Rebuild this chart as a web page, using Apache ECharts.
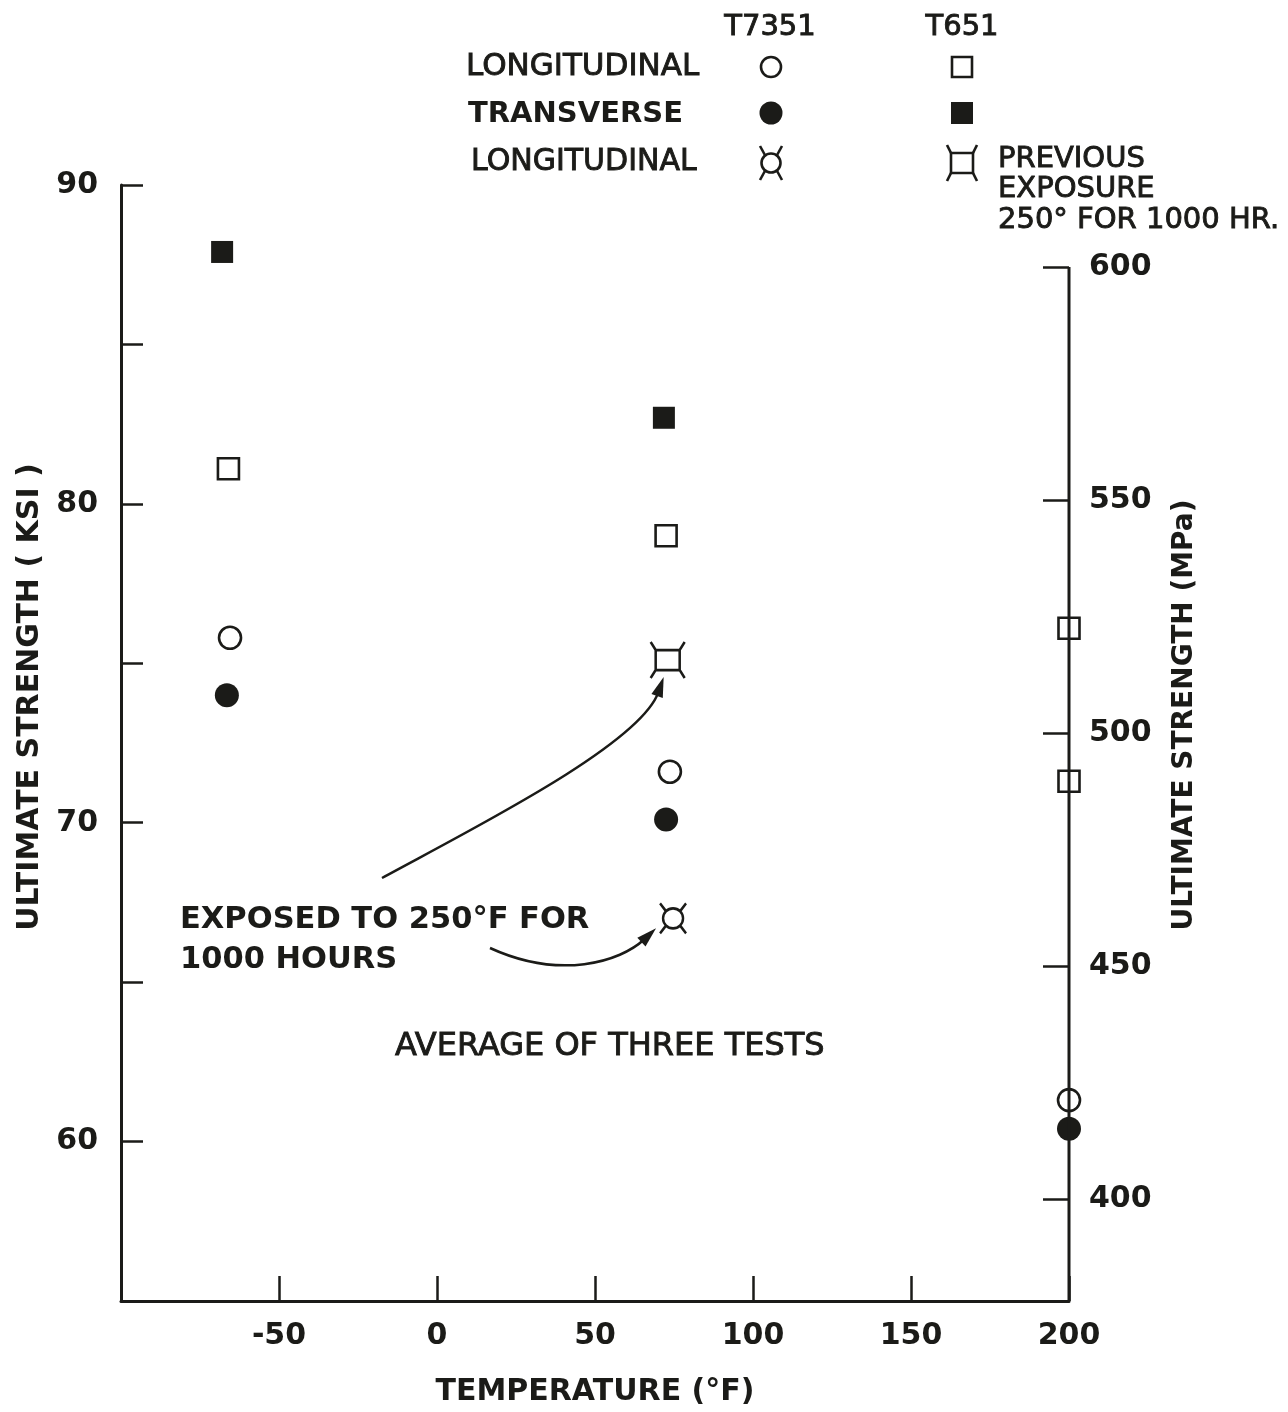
<!DOCTYPE html>
<html>
<head>
<meta charset="utf-8">
<script src="https://cdn.jsdelivr.net/npm/echarts@6/dist/echarts.min.js"></script>
<style>
  html, body { margin: 0; padding: 0; background: #fff; }
  #chart { width: 1288px; height: 1412px; }
</style>
</head>
<body>
<div id="chart"></div>
<script>
const ink = '#1b1b18';
const font = 'DejaVu Sans';

// [temperature °F, ultimate strength ksi]
const t7351Long = [[-65.5, 75.8], [73.7, 71.6], [200, 61.3]];
const t7351Trans = [[-66.5, 74.0], [72.5, 70.1], [200, 60.4]];
const t7351Exposed = [[74.7, 67.0]];
const t651Long = [[-66, 81.1], [72.5, 79.0], [200, 76.1], [200, 71.3]];
const t651Trans = [[-68, 87.9], [71.8, 82.7]];
const t651Exposed = [[73, 75.1]];

// right hand MPa scale
const mpaTicks = [400, 450, 500, 550, 600];
const mpaLine = [[200, 600], [200, 378.1]];

const crossCircle = 'path://M10 0A10 10 0 1 1 -10 0A10 10 0 1 1 10 0ZM-7 -7.1L-13 -15M7 -7.1L13 -15M-7 7.1L-13 15M7 7.1L13 15';
const crossSquare = 'path://M-12 -10L12 -10L12 10L-12 10ZM-12 -10L-17 -18M12 -10L17 -18M-12 10L-17 18M12 10L17 18';

const openStyle = { color: '#fff', borderColor: ink, borderWidth: 2.6, opacity: 1 };
const fillStyle = { color: ink, opacity: 1 };
const crossStyle = { color: 'rgba(0,0,0,0)', borderColor: ink, borderWidth: 2.6, opacity: 1 };

const chart = echarts.init(document.getElementById('chart'));

const option = {
  backgroundColor: '#fff',
  animation: false,
  grid: { left: 121, right: 219, top: 185, height: 1117 },
  xAxis: {
    type: 'value',
    min: -100,
    max: 200,
    interval: 50,
    name: 'TEMPERATURE (°F)',
    nameLocation: 'middle',
    nameGap: 76,
    nameTextStyle: { fontFamily: font, fontSize: 30, fontWeight: 'bold', color: ink },
    axisLine: { onZero: false, lineStyle: { color: ink, width: 3 } },
    axisTick: { inside: true, length: 25, lineStyle: { color: ink, width: 2.5 } },
    axisLabel: {
      margin: 20,
      fontFamily: font, fontSize: 30, fontWeight: 'bold', color: ink,
      formatter: v => (v === -100 ? '' : v)
    },
    splitLine: { show: false }
  },
  yAxis: [
    {
      type: 'value',
      position: 'left',
      min: 55,
      max: 90,
      interval: 5,
      axisLine: { show: true, onZero: false, lineStyle: { color: ink, width: 3 } },
      axisTick: { inside: true, length: 22, lineStyle: { color: ink, width: 2.5 } },
      axisLabel: {
        margin: 23,
        fontFamily: font, fontSize: 30, fontWeight: 'bold', color: ink,
        formatter: v => (v % 10 === 0 ? v : '')
      },
      splitLine: { show: false }
    },
    {
      type: 'value',
      position: 'right',
      min: 378.1,
      max: 617.6,
      axisLine: { show: false, onZero: false },
      axisTick: { show: true, inside: true, length: 26, customValues: mpaTicks, lineStyle: { color: ink, width: 2.5 } },
      axisLabel: {
        margin: 20,
        customValues: mpaTicks,
        fontFamily: font, fontSize: 30, fontWeight: 'bold', color: ink
      },
      splitLine: { show: false }
    }
  ],
  series: [
    {
      name: 'mpa axis',
      type: 'line',
      yAxisIndex: 1,
      data: mpaLine,
      symbol: 'none',
      silent: true,
      lineStyle: { color: ink, width: 3 }
    },
    { name: 'T651 transverse', type: 'scatter', data: t651Trans, symbol: 'rect', symbolSize: 22, itemStyle: fillStyle },
    { name: 'T651 longitudinal', type: 'scatter', data: t651Long, symbol: 'rect', symbolSize: 21, itemStyle: openStyle },
    { name: 'T651 exposed', type: 'scatter', data: t651Exposed, symbol: crossSquare, symbolSize: [34, 36], itemStyle: crossStyle },
    { name: 'T7351 longitudinal', type: 'scatter', data: t7351Long, symbol: 'circle', symbolSize: 22, itemStyle: openStyle },
    { name: 'T7351 transverse', type: 'scatter', data: t7351Trans, symbol: 'circle', symbolSize: 24, itemStyle: fillStyle },
    { name: 'T7351 exposed', type: 'scatter', data: t7351Exposed, symbol: crossCircle, symbolSize: [26, 30], itemStyle: crossStyle }
  ]
};

chart.setOption(option);

// annotation arrows, tips anchored to the exposed points
const pA = chart.convertToPixel({ xAxisIndex: 0, yAxisIndex: 0 }, t651Exposed[0]);
const pB = chart.convertToPixel({ xAxisIndex: 0, yAxisIndex: 0 }, t7351Exposed[0]);

function arrow(x1, y1, c1x, c1y, c2x, c2y, tx, ty) {
  const dx = tx - c2x, dy = ty - c2y;
  const len = Math.sqrt(dx * dx + dy * dy);
  const ux = dx / len, uy = dy / len;
  const hl = 20, hw = 6;
  const bx = tx - ux * hl, by = ty - uy * hl;
  return [
    {
      type: 'bezierCurve',
      shape: { x1: x1, y1: y1, cpx1: c1x, cpy1: c1y, cpx2: c2x, cpy2: c2y, x2: bx + ux * 4, y2: by + uy * 4 },
      style: { stroke: ink, lineWidth: 2.5, fill: null }
    },
    {
      type: 'polygon',
      shape: { points: [[tx, ty], [bx - uy * hw, by + ux * hw], [bx + uy * hw, by - ux * hw]] },
      style: { fill: ink }
    }
  ];
}

// 'medium' = book weight thickened a little with a stroke of the same ink
function txt(s, x, y, size, weight, align) {
  const style = {
    text: s, fill: ink, fontFamily: font, fontSize: size,
    fontWeight: weight === 'bold' ? 'bold' : 'normal',
    align: align || 'left', verticalAlign: 'middle'
  };
  if (weight === 'medium') {
    style.stroke = ink;
    style.lineWidth = 0.9;
  }
  return { type: 'text', x: x, y: y, style: style };
}

function seg(x1, y1, x2, y2) {
  return { type: 'line', shape: { x1: x1, y1: y1, x2: x2, y2: y2 }, style: { stroke: ink, lineWidth: 2.6 } };
}

// legend keys drawn the same way as the point symbols
const lineStroke = { fill: null, stroke: ink, lineWidth: 2.6 };
const legendSym = [
  { type: 'circle', shape: { cx: 771, cy: 67, r: 10 }, style: { fill: '#fff', stroke: ink, lineWidth: 2.6 } },
  { type: 'rect', shape: { x: 952, y: 57, width: 20, height: 20 }, style: { fill: '#fff', stroke: ink, lineWidth: 2.6 } },
  { type: 'circle', shape: { cx: 771, cy: 113, r: 11.5 }, style: { fill: ink } },
  { type: 'rect', shape: { x: 951, y: 102, width: 22, height: 22 }, style: { fill: ink } },
  { type: 'circle', shape: { cx: 771, cy: 163, r: 9.5 }, style: lineStroke },
  seg(765.2, 155.5, 760, 146), seg(776.8, 155.5, 782, 146), seg(765.2, 170.5, 760, 180), seg(776.8, 170.5, 782, 180),
  { type: 'rect', shape: { x: 951, y: 153, width: 22, height: 20 }, style: lineStroke },
  seg(951, 153, 947, 145), seg(973, 153, 977, 145), seg(951, 173, 947, 181), seg(973, 173, 977, 181)
];

const graphics = [].concat(
  legendSym,
  [
    txt('T7351', 770, 27, 29, 'medium', 'center'),
    txt('T651', 962, 27, 29, 'medium', 'center'),
    txt('LONGITUDINAL', 466, 67, 31, 'medium'),
    txt('TRANSVERSE', 468, 114, 29, 'bold'),
    txt('LONGITUDINAL', 471, 162, 30, 'medium'),
    txt('PREVIOUS', 998, 159, 29, 'medium'),
    txt('EXPOSURE', 998, 189, 29, 'medium'),
    txt('250° FOR 1000 HR.', 998, 220, 29, 'medium'),
    txt('EXPOSED TO 250°F FOR', 180, 920, 30.5, 'bold'),
    txt('1000 HOURS', 180, 960, 30.5, 'bold'),
    txt('AVERAGE OF THREE TESTS', 395, 1047, 32, 'medium'),
    Object.assign(txt('ULTIMATE STRENGTH ( KSI )', 30, 697, 30, 'bold', 'center'), { rotation: Math.PI / 2 }),
    Object.assign(txt('ULTIMATE STRENGTH (MPa)', 1185, 715, 28, 'bold', 'center'), { rotation: Math.PI / 2 })
  ],
  arrow(382, 878, 470, 830, 640, 745, pA[0] - 4, pA[1] + 17),
  arrow(490, 948, 560, 980, 620, 962, pB[0] - 17, pB[1] + 10)
);

chart.setOption({ graphic: graphics });
</script>
</body>
</html>
